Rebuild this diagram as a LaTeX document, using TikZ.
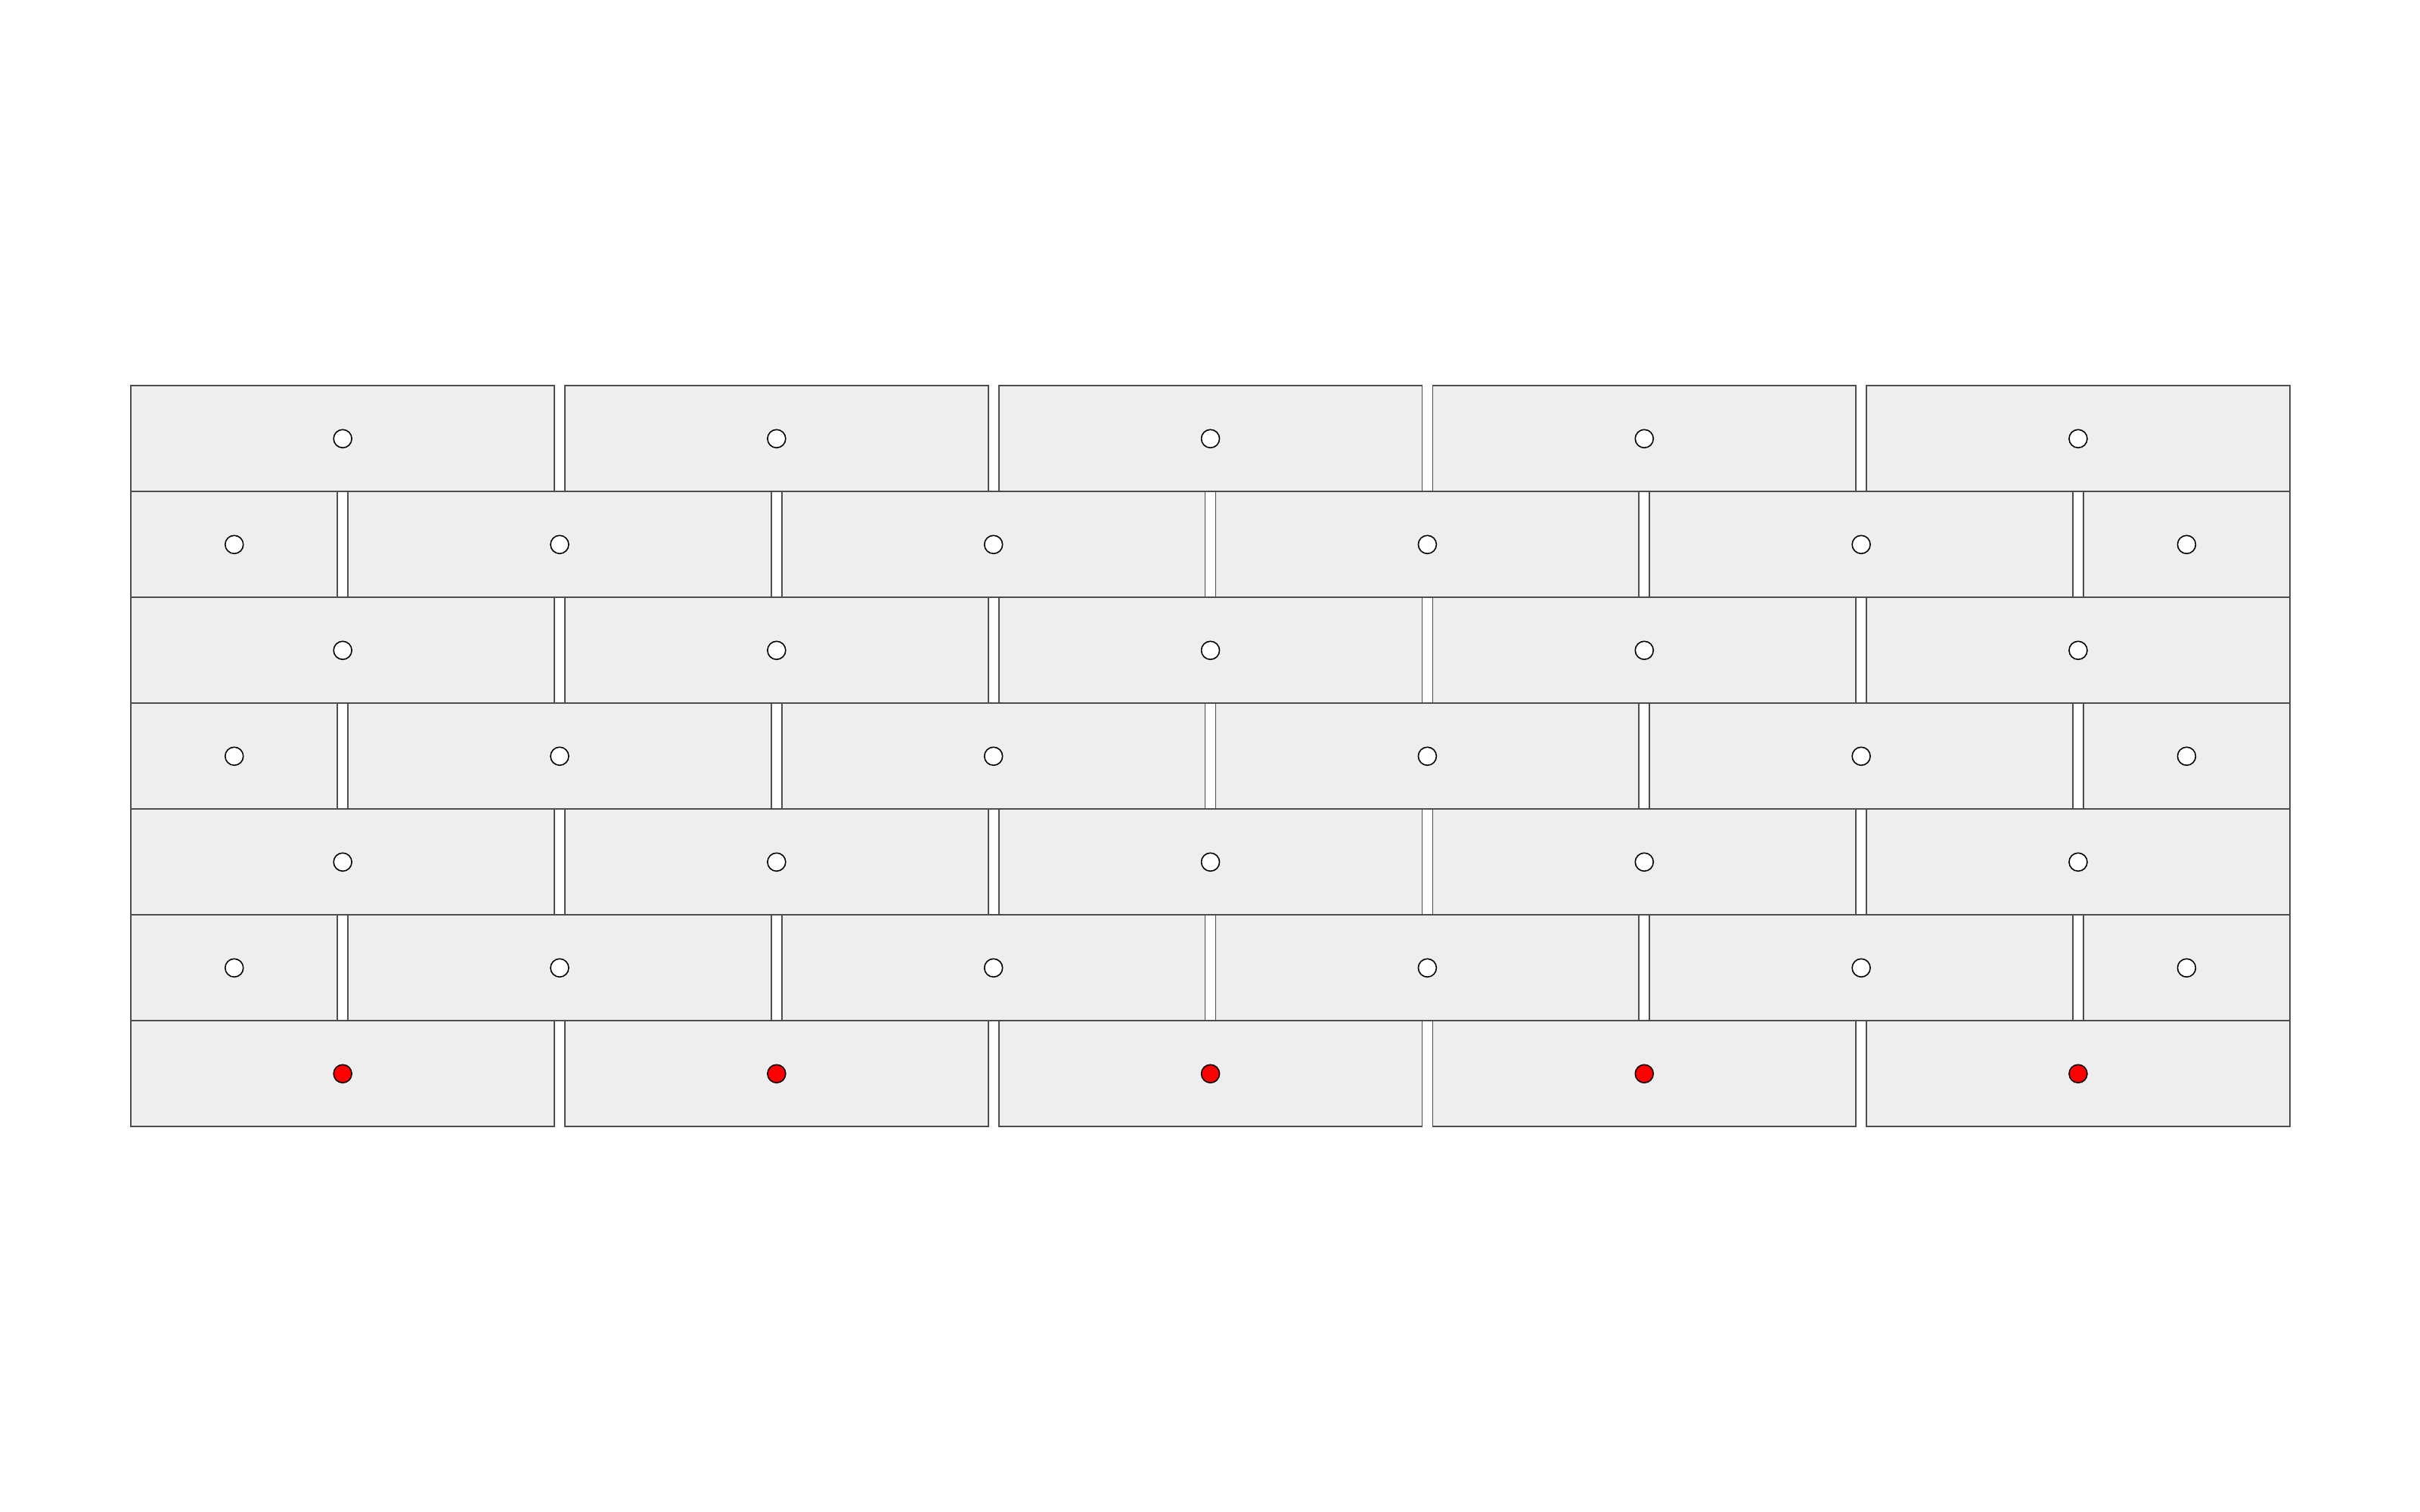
\documentclass[tikz,border=0pt]{standalone}
\usepackage{tikz}

\definecolor{cinza}{HTML}{EEEEEE}
\definecolor{borda}{HTML}{4D4D4D}

\begin{document}
\begin{tikzpicture}[
        tijolo/.style={draw=borda, fill=cinza, line width=0.5pt},
        furo/.style={circle, draw, fill=white, minimum size=2.4mm, inner sep=0pt, line width=0.45pt},
        selecionado/.style={circle, draw, fill=red, minimum size=2.4mm, inner sep=0pt, line width=0.45pt}
    ]

        \useasboundingbox (0,0) rectangle (32,20);

        % medidas
        \def\xini{1.733}
        \def\topo{14.897}
        \def\alt{1.4}
        \def\larg{5.597}
        \def\junta{0.14}
        \pgfmathsetmacro{\meio}{(\larg-\junta)/2}

        % ==================================================
        % FIADAS INTEIRAS (1, 3, 5, 7)
        % ==================================================

        \foreach \r/\estilo in {1/furo, 3/furo, 5/furo, 7/selecionado} {
            \pgfmathsetmacro{\ya}{\topo-(\r-1)*\alt}
            \foreach \i in {0,...,4} {
                \pgfmathsetmacro{\xa}{\xini+\i*(\larg+\junta)}
                \draw[tijolo] (\xa,\ya) rectangle ++(\larg,-\alt);
                \node[\estilo] (f\r\i) at (\xa+\larg/2,\ya-\alt/2) {};
            }
        }

        % ==================================================
        % FIADAS DESLOCADAS (2, 4, 6)
        % ==================================================

        \foreach \r in {2,4,6} {
            \pgfmathsetmacro{\ya}{\topo-(\r-1)*\alt}
            % meio tijolo da esquerda
            \draw[tijolo] (\xini,\ya) rectangle ++(\meio,-\alt);
            \node[furo] (f\r e) at (\xini+\meio/2,\ya-\alt/2) {};
            % tijolos inteiros
            \foreach \i in {0,...,3} {
                \pgfmathsetmacro{\xa}{\xini+\meio+\junta+\i*(\larg+\junta)}
                \draw[tijolo] (\xa,\ya) rectangle ++(\larg,-\alt);
                \node[furo] (f\r\i) at (\xa+\larg/2,\ya-\alt/2) {};
            }
            % meio tijolo da direita
            \pgfmathsetmacro{\xd}{\xini+\meio+\junta+4*(\larg+\junta)}
            \draw[tijolo] (\xd,\ya) rectangle ++(\meio,-\alt);
            \node[furo] (f\r d) at (\xd+\meio/2,\ya-\alt/2) {};
        }
    \end{tikzpicture}
\end{document}
